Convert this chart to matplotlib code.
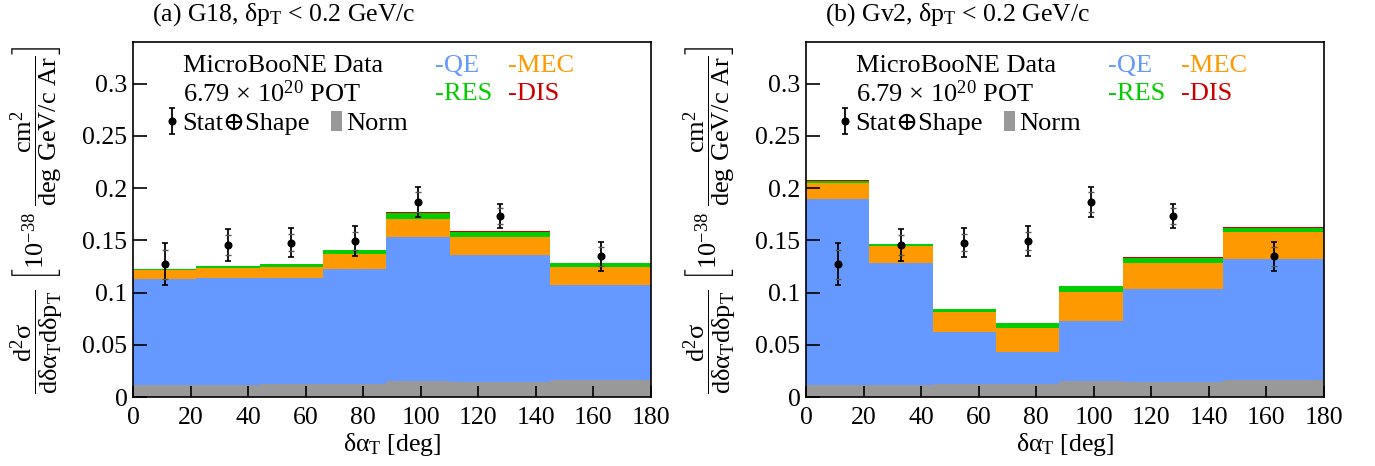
import numpy as np
import matplotlib
matplotlib.use("Agg")
import matplotlib.pyplot as plt
from matplotlib.patches import Patch

plt.rcParams['font.family'] = ['Liberation Serif', 'DejaVu Serif']
plt.rcParams['mathtext.fontset'] = 'custom'
plt.rcParams['mathtext.rm'] = 'Liberation Serif'
plt.rcParams['mathtext.it'] = 'Liberation Serif'
plt.rcParams['mathtext.bf'] = 'Liberation Serif:bold'

# binning in delta alpha_T [deg]
edges = [0, 22, 44, 66, 88, 110, 145, 180]
centers = [11, 33, 55, 77, 99, 127.5, 162.5]

# MicroBooNE data (10^-38 cm2 / deg GeV/c Ar)
data = [0.1271, 0.1455, 0.1478, 0.1494, 0.1869, 0.1732, 0.1347]
err_total = [0.0200, 0.0151, 0.0139, 0.0147, 0.0144, 0.0116, 0.0137]
err_stat = [0.0137, 0.0094, 0.0081, 0.0090, 0.0094, 0.0077, 0.0093]
norm_unc = [0.0115, 0.0118, 0.0121, 0.0127, 0.0153, 0.0143, 0.0162]

# G18 prediction by interaction mode
g18_qe = [0.1127, 0.1143, 0.1137, 0.1226, 0.1532, 0.1360, 0.1076]
g18_mec = [0.0090, 0.0093, 0.0108, 0.0140, 0.0175, 0.0169, 0.0166]
g18_res = [0.0006, 0.0016, 0.0026, 0.0038, 0.0057, 0.0051, 0.0041]
g18_dis = [0.0001, 0.0001, 0.0001, 0.0002, 0.0006, 0.0006, 0.0002]

# Gv2 prediction by interaction mode
gv2_qe = [0.1901, 0.1283, 0.0618, 0.0430, 0.0726, 0.1035, 0.1318]
gv2_mec = [0.0153, 0.0163, 0.0194, 0.0232, 0.0280, 0.0248, 0.0262]
gv2_res = [0.0019, 0.0022, 0.0032, 0.0045, 0.0054, 0.0051, 0.0035]
gv2_dis = [0.0002, 0.0002, 0.0003, 0.0006, 0.0007, 0.0010, 0.0009]

c_qe = '#6699ff'
c_mec = '#ff9900'
c_res = '#00cc00'
c_dis = '#cc0000'
c_norm = '#999999'

fs = 18.5
fs_leg = 19
yticks = [0, 0.05, 0.1, 0.15, 0.2, 0.25, 0.3]
ylab = (r'$\dfrac{\mathrm{d}^{2}\sigma}{\mathrm{d}\delta\alpha_{\mathrm{T}}\mathrm{d}\delta \mathrm{p}_{\mathrm{T}}}'
        r'\ \left[10^{-38}\ \dfrac{\mathrm{cm}^{2}}{\mathrm{deg\ GeV/c\ Ar}}\right]$')


def draw_panel(ax, qe, mec, res, dis, title):
    bottom = np.zeros(len(qe))
    for vals, col in [(qe, c_qe), (mec, c_mec), (res, c_res), (dis, c_dis)]:
        top = bottom + np.array(vals)
        ax.stairs(top, edges, baseline=bottom, fill=True, color=col, lw=0)
        bottom = top
    ax.stairs(norm_unc, edges, baseline=0, fill=True, color=c_norm, lw=0)

    eb = ax.errorbar(centers, data, yerr=err_total, fmt='o', color='k', ms=4.8,
                     capsize=2.5, elinewidth=1.3, capthick=1.2, zorder=5)
    ax.errorbar(centers, data, yerr=err_stat, fmt='none', ecolor='#555555',
                elinewidth=0, capsize=2.5, capthick=1.0, zorder=6)

    ax.set_xlim(0, 180)
    ax.set_ylim(0, 0.34)
    ax.set_xticks(range(0, 181, 20))
    ax.set_yticks(yticks)
    ax.set_yticklabels(['%g' % t for t in yticks])
    ax.tick_params(axis='both', direction='in', labelsize=fs, top=False, right=False, width=1.2)
    ax.tick_params(axis='y', length=10, pad=4)
    ax.tick_params(axis='x', length=8, pad=7)
    for s in ax.spines.values():
        s.set_linewidth(1.2)

    ax.set_xlabel(r'$\delta\alpha_{\mathrm{T}}$ [deg]', fontsize=fs, labelpad=2)
    ax.text(-0.185, 0.5, ylab, transform=ax.transAxes, rotation=90,
            ha='center', va='center', fontsize=19)
    ax.text(0.037, 1.061, title, transform=ax.transAxes, fontsize=18.5, va='baseline')

    ax.text(0.0965, 0.9156, 'MicroBooNE Data', transform=ax.transAxes, fontsize=fs_leg, va='baseline')
    ax.text(0.0965, 0.831, r'6.79 $\times$ 10$^{20}$ POT', transform=ax.transAxes, fontsize=fs_leg, va='baseline')
    ax.text(0.583, 0.9156, '-QE', color=c_qe, transform=ax.transAxes, fontsize=fs_leg, va='baseline')
    ax.text(0.724, 0.9156, '-MEC', color=c_mec, transform=ax.transAxes, fontsize=fs_leg, va='baseline')
    ax.text(0.583, 0.836, '-RES', color=c_res, transform=ax.transAxes, fontsize=fs_leg, va='baseline')
    ax.text(0.724, 0.836, '-DIS', color=c_dis, transform=ax.transAxes, fontsize=fs_leg, va='baseline')

    ax.legend([eb, Patch(facecolor=c_norm)], ['Stat\u2295Shape', 'Norm'], ncol=2,
              loc='upper left', bbox_to_anchor=(0.064, 0.805), frameon=False, fontsize=fs_leg,
              handlelength=0.45, handleheight=0.8, handletextpad=0.15, columnspacing=0.8,
              borderpad=0, borderaxespad=0)


fig = plt.figure(figsize=(13.75, 4.66), dpi=100)
ax1 = fig.add_axes([133 / 1375, 69 / 466, 518 / 1375, 355 / 466])
ax2 = fig.add_axes([806 / 1375, 69 / 466, 518 / 1375, 355 / 466])

draw_panel(ax1, g18_qe, g18_mec, g18_res, g18_dis,
           r'(a) G18, $\delta\mathrm{p}_{\mathrm{T}}$ < 0.2 GeV/c')
draw_panel(ax2, gv2_qe, gv2_mec, gv2_res, gv2_dis,
           r'(b) Gv2, $\delta\mathrm{p}_{\mathrm{T}}$ < 0.2 GeV/c')

fig.savefig('out.png', dpi=100)
plt.close(fig)
